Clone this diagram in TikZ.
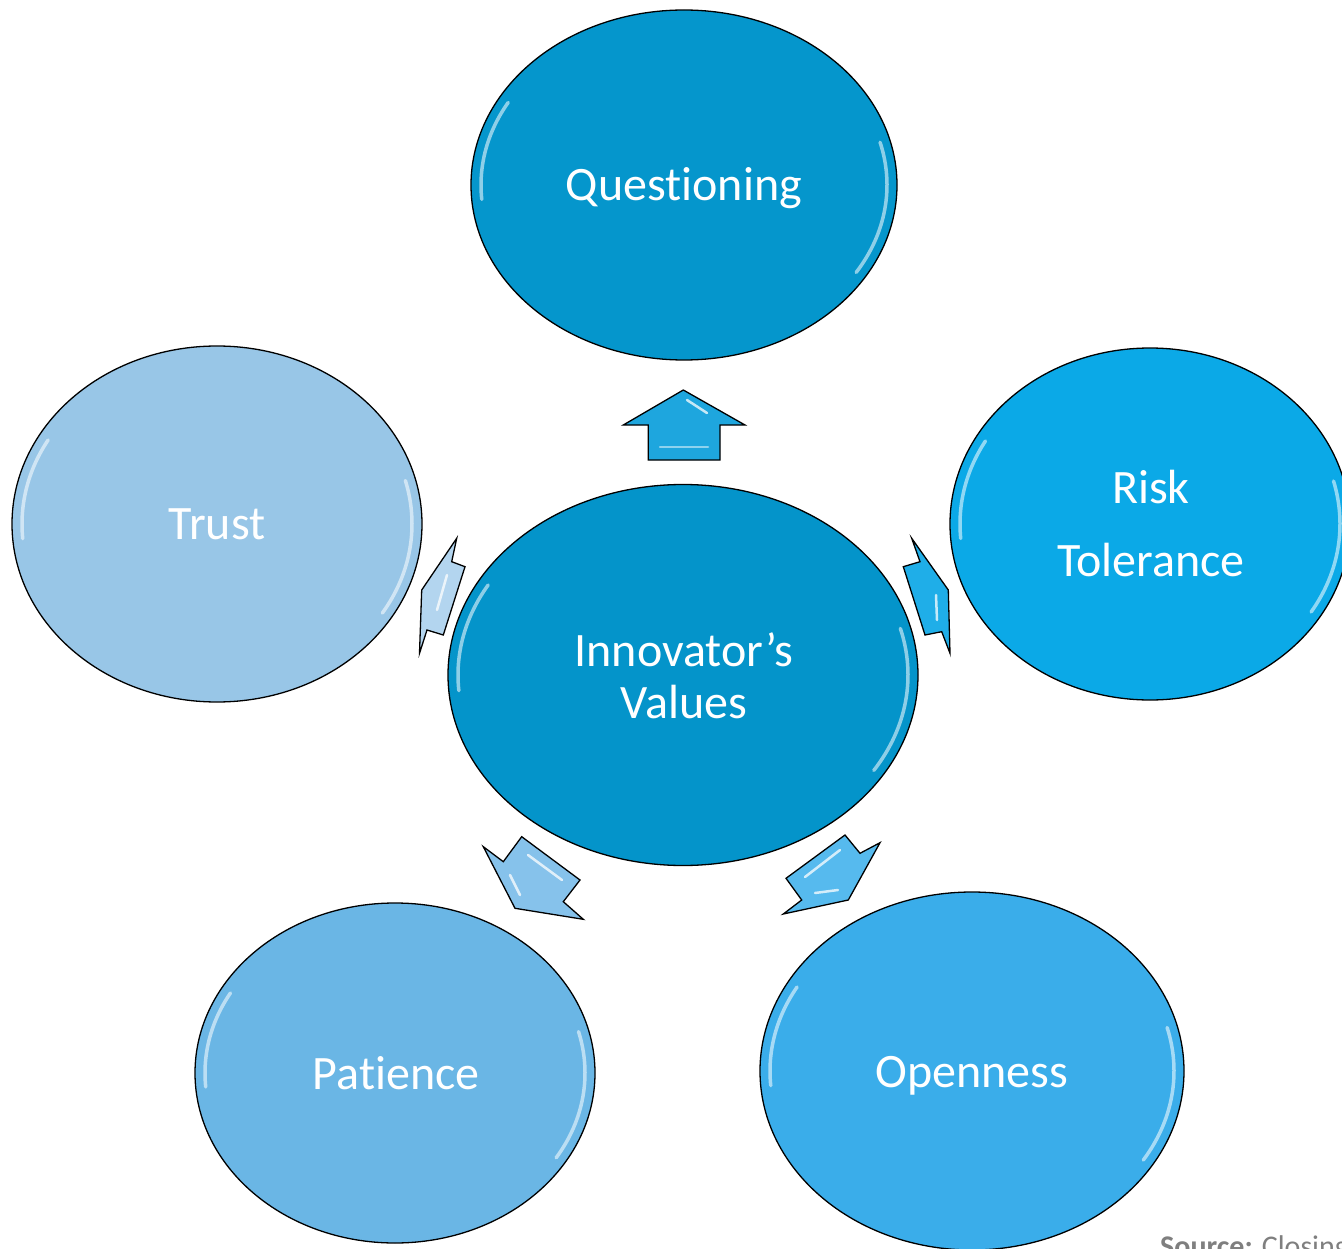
\documentclass[tikz,border=0pt]{standalone}
\usepackage{fontspec}
\setmainfont{Carlito}[Ligatures={NoCommon,NoRare,NoDiscretionary}]
\usetikzlibrary{shapes.geometric}
\definecolor{cQ}{HTML}{0596CC}
\definecolor{cC}{HTML}{0494CA}
\definecolor{cR}{HTML}{0BA9E7}
\definecolor{cT}{HTML}{98C6E7}
\definecolor{cP}{HTML}{6AB6E5}
\definecolor{cO}{HTML}{3AADEA}
\definecolor{aU}{HTML}{1EA6DE}
\definecolor{aL}{HTML}{B3D5EF}
\definecolor{aR}{HTML}{1FAEE8}
\definecolor{aBL}{HTML}{86C2EB}
\definecolor{aBR}{HTML}{56BAEE}
\definecolor{srcgray}{HTML}{7F7F7F}
\tikzset{
  bubble/.style={ellipse, draw=black, line width=1.3pt, inner sep=0pt,
    text=white, align=center, font=\fontsize{48}{52}\selectfont},
  blockarrow/.style={draw=black, line width=1.3pt, line join=miter},
  hl/.style={white, opacity=.55, line width=3.5pt, line cap=round},
  ahl/.style={white, opacity=.75, line width=2.5pt, line cap=round},
}
\newcommand\glossy[3]{%
  \draw[hl] ([shift={(175:#2 and #3)}]#1.center) arc[start angle=175,end angle=210,x radius=#2,y radius=#3];
  \draw[hl] ([shift={(-15:#2 and #3)}]#1.center) arc[start angle=-15,end angle=32,x radius=#2,y radius=#3];
}
\begin{document}
\begin{tikzpicture}[x=1pt,y=-1pt]
\useasboundingbox (0,0) rectangle (1342,1249);
\fill[white] (0,0) rectangle (1342,1249);

% ellipses
\node[bubble, fill=cQ, minimum width=426, minimum height=350] (Q) at (684,185) {};
\node[bubble, fill=cC, minimum width=470, minimum height=381] (C) at (683,675) {};
\node[bubble, fill=cT, minimum width=410, minimum height=356] (T) at (217,524) {};
\node[bubble, fill=cR, minimum width=400, minimum height=352] (R) at (1150,524) {};
\node[bubble, fill=cP, minimum width=400, minimum height=340] (P) at (395,1073) {};
\node[bubble, fill=cO, minimum width=424, minimum height=358] (O) at (972,1071) {};

% labels
\node[bubble, draw=none] (Qt) at (684,188) {Questioning};
\node[bubble, draw=none] (Ct) at (684,676) {Innovator’s\\Values};
\node[bubble, draw=none] (Tt) at (217,524) {Trust};
\node[bubble, draw=none] (Rt) at (1151,524) {Risk\\[21pt]Tolerance};
\node[bubble, draw=none] (Pt) at (396,1073) {Patience};
\node[bubble, draw=none] (Ot) at (972,1076) {Openness};

\glossy{Q}{203}{165}
\glossy{C}{225}{180}
\glossy{T}{195}{168}
\glossy{R}{190}{166}
\glossy{P}{190}{160}
\glossy{O}{202}{168}

% block arrows
\draw[blockarrow, fill=aU] (683.3,390) -- (745,425) -- (720,425) -- (720,460)
  -- (648.3,460) -- (648.3,425) -- (623.3,425) -- cycle;
\draw[ahl] (687,400) -- (707,413);
\draw[ahl, opacity=.5] (660,447) -- (708,447);

\draw[blockarrow, fill=aL] (456.7,538.3) -- (451.7,561.7) -- (465,566.7) -- (443.3,635)
  -- (427,630) -- (419.5,653.3) -- (421.7,590) -- cycle;
\draw[ahl] (447,575) -- (437,610);

\draw[blockarrow, fill=aR] (911.7,538.3) -- (920,561.7) -- (903.3,566.7) -- (925,635)
  -- (941.7,631.7) -- (950,653.3) -- (948.3,590) -- cycle;
\draw[ahl] (936,595) -- (937,620);

\draw[blockarrow, fill=aBL] (483.3,846.7) -- (503.3,861.7) -- (521.7,836.7) -- (580,880)
  -- (563.3,901.7) -- (583.3,919.3) -- (515,908.3) -- cycle;
\draw[ahl] (528,855) -- (562,880);
\draw[ahl] (510,875) -- (520,895);

\draw[blockarrow, fill=aBR] (880,842.7) -- (860,853.3) -- (845,835) -- (786,878.3)
  -- (801.7,900) -- (783.3,914) -- (848.3,900) -- cycle;
\draw[ahl] (840,850) -- (805,877);
\draw[ahl] (815,893) -- (838,890);

% source (cut off at the page edge, as in the reference)
\node[anchor=north west, inner sep=0pt, text=srcgray, font=\fontsize{30}{34}\selectfont] (src) at (1160,1235) {\textbf{Source:} Closing the Innovation Gap};
\end{tikzpicture}
\end{document}
